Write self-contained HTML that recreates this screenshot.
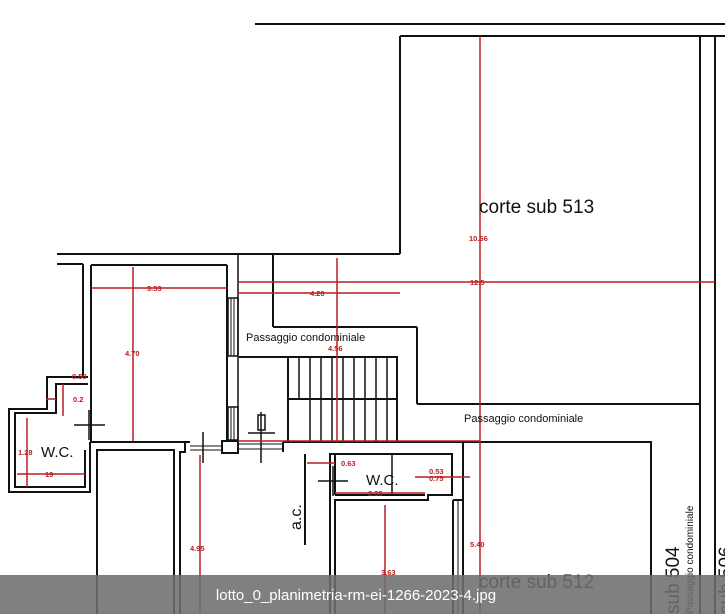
<!DOCTYPE html>
<html><head><meta charset="utf-8"><style>
html,body{margin:0;padding:0;background:#fff;}
svg{display:block;font-family:"Liberation Sans",sans-serif;}
</style></head><body>
<svg width="725" height="614" viewBox="0 0 725 614" xmlns="http://www.w3.org/2000/svg">
<rect width="725" height="614" fill="#fff"/>
<g stroke="#111" stroke-width="2" fill="none">
<line x1="255" y1="24" x2="725" y2="24"/>
<line x1="400" y1="36" x2="725" y2="36"/>
<line x1="400" y1="36" x2="400" y2="254"/>
<line x1="57" y1="254" x2="400" y2="254"/>
<line x1="273" y1="254" x2="273" y2="327"/>
<line x1="273" y1="327" x2="417" y2="327"/>
<line x1="417" y1="327" x2="417" y2="404"/>
<line x1="417" y1="404" x2="700" y2="404"/>
<line x1="700" y1="36" x2="700" y2="614"/>
<line x1="715" y1="36" x2="715" y2="614"/>
<line x1="57" y1="264" x2="83" y2="264"/>
<line x1="83" y1="264" x2="83" y2="377"/>
<line x1="91" y1="265" x2="227" y2="265"/>
<line x1="91" y1="265" x2="91" y2="442"/>
<line x1="227" y1="265" x2="227" y2="442"/>
<line x1="91" y1="442" x2="190" y2="442"/>
<polyline points="88,377 47,377 47,409 9,409 9,492 90,492 90,442"/>
<polyline points="88,384 56,384 56,413 15,413 15,487 85,487 85,450"/>
<polyline points="97,614 97,450 174,450 174,614"/>
<polyline points="180,614 180,452 185,452 185,442 190,442"/>
<line x1="190" y1="446" x2="222" y2="446" stroke-width="1"/>
<line x1="190" y1="450" x2="222" y2="450" stroke-width="1"/>
<rect x="222" y="441" width="16" height="12"/>
<line x1="238" y1="444" x2="283" y2="444" stroke-width="1"/>
<line x1="238" y1="449" x2="283" y2="449" stroke-width="1"/>
<line x1="238" y1="254" x2="238" y2="441" stroke-width="1.5"/>
<line x1="283" y1="442" x2="463" y2="442"/>
<line x1="283" y1="442" x2="283" y2="452"/>
<rect x="228" y="298" width="10" height="58" stroke-width="1.5"/>
<line x1="231" y1="298" x2="231" y2="356" stroke-width="1"/>
<line x1="234" y1="298" x2="234" y2="356" stroke-width="1"/>
<rect x="228" y="407" width="10" height="33" stroke-width="1.5"/>
<line x1="231" y1="407" x2="231" y2="440" stroke-width="1"/>
<line x1="234" y1="407" x2="234" y2="440" stroke-width="1"/>
<line x1="239" y1="357" x2="397" y2="357"/>
<rect x="288" y="357" width="109" height="85"/>
<line x1="288" y1="399" x2="397" y2="399"/>
<g stroke-width="1.5">
<line x1="299" y1="357" x2="299" y2="399"/><line x1="310" y1="357" x2="310" y2="442"/>
<line x1="321" y1="357" x2="321" y2="442"/><line x1="332" y1="357" x2="332" y2="442"/>
<line x1="343" y1="357" x2="343" y2="442"/><line x1="354" y1="357" x2="354" y2="442"/>
<line x1="365" y1="357" x2="365" y2="442"/><line x1="376" y1="357" x2="376" y2="442"/>
<line x1="387" y1="357" x2="387" y2="442"/>
</g>
<line x1="305" y1="454" x2="305" y2="545"/>
<polyline points="330,614 330,454 452,454 452,495 428,495 428,500 335,500 335,614"/>
<line x1="335" y1="454" x2="335" y2="495"/>
<line x1="335" y1="495" x2="425" y2="495"/>
<line x1="453" y1="500" x2="453" y2="614"/>
<line x1="458" y1="500" x2="458" y2="614" stroke-width="1"/>
<line x1="463" y1="442" x2="463" y2="614"/>
<line x1="453" y1="500" x2="463" y2="500"/>
<polyline points="463,442 651,442 651,614"/>
<rect x="258" y="415" width="7" height="15" stroke-width="1.5"/>
<line x1="261" y1="412" x2="261" y2="463" stroke-width="1.5"/>
<line x1="248" y1="433" x2="275" y2="433" stroke-width="1.5"/>
<line x1="74" y1="425" x2="105" y2="425" stroke-width="1.5"/>
<line x1="89" y1="410" x2="89" y2="440" stroke-width="1.5"/>
<line x1="203" y1="432" x2="203" y2="463" stroke-width="1.5"/>
<line x1="318" y1="481" x2="348" y2="481" stroke-width="1.5"/>
<line x1="333" y1="466" x2="333" y2="496" stroke-width="1.5"/>
<line x1="392" y1="455" x2="392" y2="495" stroke-width="1.5"/>
</g>
<g stroke="#b81f22" stroke-width="1.5" fill="none">
<line x1="480" y1="36" x2="480" y2="614"/>
<line x1="238" y1="282" x2="715" y2="282"/>
<line x1="238" y1="293" x2="400" y2="293"/>
<line x1="337" y1="258" x2="337" y2="442"/>
<line x1="91" y1="288" x2="227" y2="288"/>
<line x1="133" y1="267" x2="133" y2="441"/>
<line x1="238" y1="441" x2="480" y2="441"/>
<line x1="200" y1="455" x2="200" y2="614"/>
<line x1="385" y1="505" x2="385" y2="614"/>
<line x1="335" y1="493" x2="425" y2="493"/>
<line x1="307" y1="463" x2="335" y2="463"/>
<line x1="415" y1="477" x2="470" y2="477"/>
<line x1="27" y1="418" x2="27" y2="487"/>
<line x1="17" y1="474" x2="85" y2="474"/>
<line x1="63" y1="384" x2="63" y2="416"/>
<line x1="46" y1="399" x2="56" y2="399"/>
</g>
<g fill="#b81f22" font-size="7.5" font-weight="bold">
<text x="147" y="291">3.53</text>
<text x="310" y="296">4.20</text>
<text x="470" y="285">12.5</text>
<text x="469" y="241">10.66</text>
<text x="328" y="351">4.56</text>
<text x="125" y="356">4.70</text>
<text x="72" y="379">0.50</text>
<text x="73" y="402">0.2</text>
<text x="18" y="455">1.28</text>
<text x="45" y="477">19</text>
<text x="341" y="466">0.63</text>
<text x="368" y="496">2.33</text>
<text x="429" y="474">0.53</text>
<text x="429" y="481">0.75</text>
<text x="470" y="547">5.40</text>
<text x="190" y="551">4.95</text>
<text x="381" y="575">3.63</text>
</g>
<g fill="#111">
<text x="479" y="213" font-size="19">corte  sub 513</text>
<text x="246" y="341" font-size="11">Passaggio condominiale</text>
<text x="464" y="422" font-size="11">Passaggio condominiale</text>
<text x="41" y="457" font-size="15">W.C.</text>
<text x="366" y="485" font-size="15">W.C.</text>
<text x="479" y="588" font-size="19">corte  sub 512</text>
<text transform="translate(301,530) rotate(-90)" font-size="16">a.c.</text>
<text transform="translate(679,614) rotate(-90)" font-size="19">sub 504</text>
<text transform="translate(693,614) rotate(-90)" font-size="10">Passaggio condominiale</text>
<text transform="translate(732,614) rotate(-90)" font-size="19">sub 506</text>
</g>
<rect x="0" y="575" width="725" height="39" fill="#6e6e6e" fill-opacity="0.88"/>
<text x="356" y="600" fill="#fff" font-size="15" text-anchor="middle">lotto_0_planimetria-rm-ei-1266-2023-4.jpg</text>
</svg>
</body></html>
